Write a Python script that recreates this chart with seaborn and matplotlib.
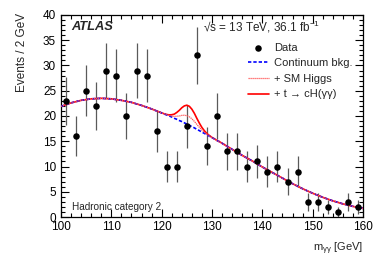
import numpy as np
import pandas as pd
import matplotlib
matplotlib.use("Agg")
import matplotlib.pyplot as plt
import matplotlib.ticker as mticker
import seaborn as sns

# data points (bin centres, events per 2 GeV)
mass = [101, 103, 105, 107, 109, 111, 113, 115, 117, 119, 121, 123, 125, 127, 129,
        131, 133, 135, 137, 139, 141, 143, 145, 147, 149, 151, 153, 155, 157, 159]
events = [23, 16, 25, 22, 29, 28, 20, 29, 28, 17, 10, 10, 18, 32, 14,
          20, 13, 13, 10, 11, 9, 10, 7, 9, 3, 3, 2, 1, 3, 2]

# fit curves
curve_x = [100, 102, 104, 106, 108, 110, 112, 114, 116, 118,
           119, 119.5, 120, 120.5, 121, 121.5, 122, 122.5, 123, 123.5, 124, 124.5,
           125, 125.5, 126, 126.5, 127, 127.5, 128, 128.5, 129, 129.5, 130, 130.5,
           131, 131.5, 132, 134, 136, 138, 140, 142, 144, 146, 148, 150, 152, 154,
           156, 158, 160]
bkg = [21.9, 22.6, 23.1, 23.4, 23.5, 23.4, 23.1, 22.7, 22.1, 21.4,
       21.0, 20.8, 20.6, 20.4, 20.2, 20.0, 19.8, 19.55, 19.35, 19.1, 18.9, 18.65,
       18.4, 18.15, 17.9, 17.65, 17.35, 17.1, 16.8, 16.55, 16.25, 16.0, 15.7, 15.45,
       15.15, 14.9, 14.6, 13.4, 12.2, 11.1, 9.9, 8.8, 7.7, 6.6, 5.6, 4.7, 3.9, 3.2,
       2.6, 2.1, 1.7]
sm_higgs = [21.9, 22.6, 23.1, 23.4, 23.5, 23.4, 23.1, 22.7, 22.1, 21.4,
            21.0, 20.8, 20.61, 20.42, 20.25, 20.1, 20.0, 19.92, 19.96, 20.0, 20.12, 20.15,
            20.07, 19.84, 19.45, 18.93, 18.32, 17.76, 17.21, 16.78, 16.37, 16.05, 15.72, 15.46,
            15.15, 14.9, 14.6, 13.4, 12.2, 11.1, 9.9, 8.8, 7.7, 6.6, 5.6, 4.7, 3.9, 3.2,
            2.6, 2.1, 1.7]
total = [21.9, 22.6, 23.1, 23.4, 23.5, 23.4, 23.1, 22.7, 22.1, 21.4,
         21.0, 20.81, 20.62, 20.44, 20.3, 20.22, 20.25, 20.37, 20.7, 21.12, 21.63, 22.0,
         22.14, 21.92, 21.35, 20.52, 19.51, 18.57, 17.72, 17.06, 16.51, 16.12, 15.75, 15.47,
         15.15, 14.9, 14.6, 13.4, 12.2, 11.1, 9.9, 8.8, 7.7, 6.6, 5.6, 4.7, 3.9, 3.2,
         2.6, 2.1, 1.7]

sns.set_style("ticks")
plt.rcParams['font.family'] = ['Liberation Sans', 'DejaVu Sans']
plt.rcParams['mathtext.fontset'] = 'custom'
plt.rcParams['mathtext.rm'] = 'Liberation Sans'
plt.rcParams['mathtext.it'] = 'Liberation Sans'
plt.rcParams['font.size'] = 8

pts = pd.DataFrame({'mass': mass, 'events': events})
curves = pd.DataFrame({'x': curve_x, 'bkg': bkg, 'sm': sm_higgs, 'tot': total})

fig = plt.figure(figsize=(3.82, 2.59), dpi=100)
ax = fig.add_axes([61 / 382, 42 / 259, 302 / 382, 202 / 259])

err = np.sqrt(pts['events'])
ax.errorbar(pts['mass'], pts['events'], yerr=err, fmt='none', ecolor='#5a5a5a',
            elinewidth=0.9, zorder=1)

sns.lineplot(data=curves, x='x', y='bkg', ax=ax, color='#0000ff', lw=1.2,
             linestyle=(0, (2, 1.2)), label='Continuum bkg.', zorder=3)
sns.lineplot(data=curves, x='x', y='sm', ax=ax, color='#ff5555', lw=0.9,
             linestyle=(0, (1, 0.6)), label='+ SM Higgs', zorder=4)
sns.lineplot(data=curves, x='x', y='tot', ax=ax, color='#ff0000', lw=1.2,
             label='+ t → cH(γγ)', zorder=2)
sns.scatterplot(data=pts, x='mass', y='events', ax=ax, color='black', s=22,
                edgecolor='black', linewidth=0, label='Data', zorder=5)

ax.set_xlim(100, 160)
ax.set_ylim(0, 40)
ax.xaxis.set_major_locator(mticker.MultipleLocator(10))
ax.xaxis.set_minor_locator(mticker.MultipleLocator(2))
ax.yaxis.set_major_locator(mticker.MultipleLocator(5))
ax.yaxis.set_minor_locator(mticker.MultipleLocator(1))
ax.tick_params(which='both', direction='in', top=True, right=True, width=0.8,
               labelsize=8.5, colors='black')
ax.tick_params(which='major', length=6)
ax.tick_params(which='minor', length=3)
ax.tick_params(axis='x', pad=3)
for s in ax.spines.values():
    s.set_linewidth(0.9)
    s.set_color('black')

ax.set_xlabel('m$_{\\gamma\\gamma}$ [GeV]', fontsize=8, ha='right', x=1.0, labelpad=5)
ax.set_ylabel('Events / 2 GeV', fontsize=8.5, ha='right', y=1.01, labelpad=11)

ax.text(0.035, 0.94, 'ATLAS', transform=ax.transAxes, fontsize=9.3,
        fontweight='bold', fontstyle='italic', va='center')
ax.text(0.47, 0.94, '√s = 13 TeV, 36.1 fb$^{-1}$', transform=ax.transAxes,
        fontsize=8.5, va='center')
ax.text(0.035, 0.05, 'Hadronic category 2', transform=ax.transAxes,
        fontsize=7.2, va='center')

h, l = ax.get_legend_handles_labels()
order = [3, 0, 1, 2]
ax.legend([h[i] for i in order], [l[i] for i in order], loc='upper left',
          bbox_to_anchor=(0.6, 0.89), frameon=False, fontsize=8,
          handlelength=1.9, handletextpad=0.5, labelspacing=0.5, borderpad=0)

fig.savefig('out.png', dpi=100)
